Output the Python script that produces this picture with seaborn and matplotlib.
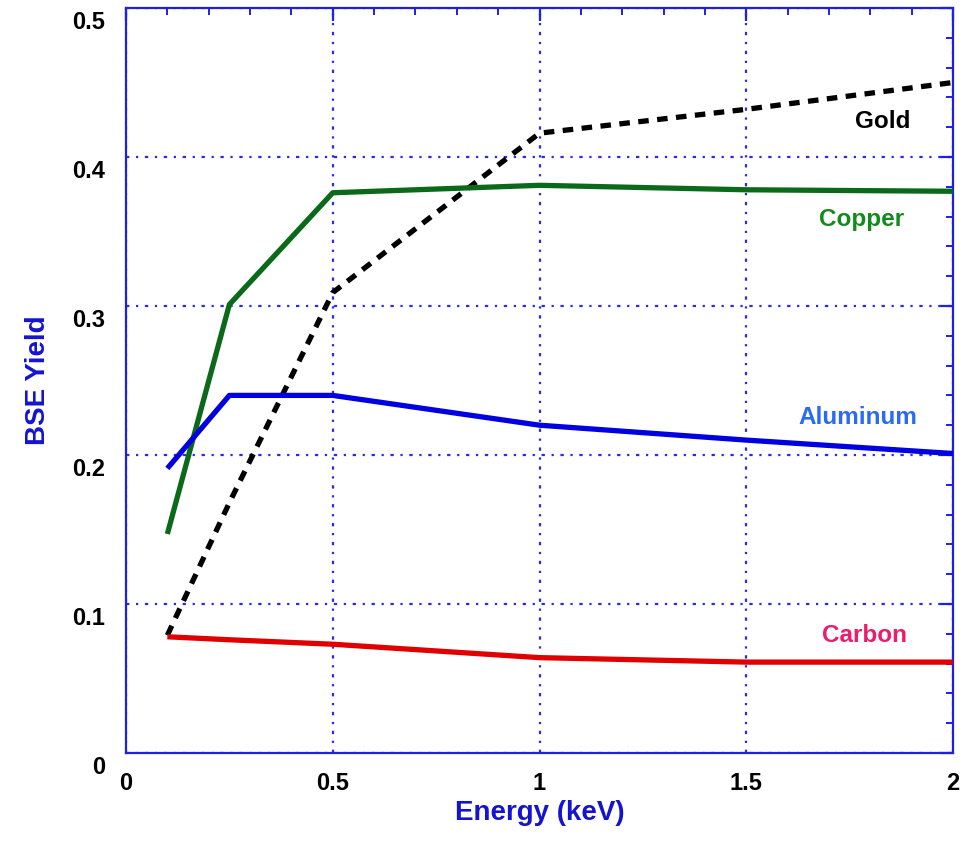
import matplotlib
matplotlib.use("Agg")
import matplotlib.pyplot as plt
import matplotlib.transforms as mtransforms
from matplotlib.ticker import MultipleLocator
import seaborn as sns
import pandas as pd

energy = [0.1, 0.25, 0.5, 1.0, 1.5, 2.0]
gold = [0.079, 0.168, 0.309, 0.416, 0.432, 0.450]
copper = [0.147, 0.301, 0.376, 0.381, 0.378, 0.377]
aluminum = [0.191, 0.240, 0.240, 0.220, 0.210, 0.201]
carbon = [0.078, 0.076, 0.073, 0.064, 0.061, 0.061]
labels = ["Gold", "Copper", "Aluminum", "Carbon"]
xticks = [0, 0.5, 1, 1.5, 2]
xticklabels = ["0", "0.5", "1", "1.5", "2"]
yticks = [0, 0.1, 0.2, 0.3, 0.4, 0.5]
yticklabels = ["0", "0.1", "0.2", "0.3", "0.4", "0.5"]

sns.set_style("white")
plt.rcParams['font.family'] = ['Liberation Sans', 'DejaVu Sans']

fig = plt.figure(figsize=(9.71, 8.42), dpi=100)
ax = fig.add_axes([126/971, 89/842, 827/971, 745/842])

series = [gold, copper, aluminum, carbon]
colors = ["#000000", "#0b6a1a", "#0000e0", "#e00000"]
for vals, col, name in zip(series, colors, labels):
    df = pd.DataFrame({"Energy": energy, "Yield": vals})
    sns.lineplot(data=df, x="Energy", y="Yield", ax=ax, color=col, lw=3.8,
                 zorder=3)
    line = ax.get_lines()[-1]
    line.set_solid_capstyle("butt")
    if name == "Gold":
        line.set_dashes((2.0, 1.6))
        line.set_dash_capstyle("butt")

ax.set_xlim(0, 2)
ax.set_ylim(0, 0.5)
ax.set_xticks(xticks)
ax.set_xticklabels(xticklabels)
ax.set_yticks(yticks)
ax.set_yticklabels(yticklabels)
ax.xaxis.set_minor_locator(MultipleLocator(0.1))
ax.yaxis.set_minor_locator(MultipleLocator(0.02))

spine_col = "#2020e0"
for s in ax.spines.values():
    s.set_color(spine_col)
    s.set_linewidth(1.6)
    s.set_visible(True)

ax.tick_params(axis="both", which="major", direction="in", length=9, width=1.6,
               color=spine_col, top=True, right=True, labelsize=17,
               labelcolor="black")
ax.tick_params(axis="both", which="minor", direction="in", length=5, width=1.4,
               color=spine_col, top=True, right=True)
ax.tick_params(axis="x", which="major", pad=14)
ax.tick_params(axis="y", which="major", pad=15)
for lab in ax.get_xticklabels() + ax.get_yticklabels():
    lab.set_fontweight("bold")
offset = mtransforms.ScaledTranslation(0, -12/100, fig.dpi_scale_trans)
for lab in ax.get_yticklabels():
    lab.set_transform(lab.get_transform() + offset)

ax.grid(True, which="major", color="#2a2ae8", linewidth=1.6,
        linestyle=(0, (1.5, 3, 1, 3)))
ax.set_axisbelow(True)

ax.set_xlabel("Energy (keV)", fontsize=20, fontweight="bold", color="#1414d0",
              labelpad=3)
ax.set_ylabel("BSE Yield", fontsize=20, fontweight="bold", color="#1414d0",
              labelpad=15)

text_pos = [(1.83, 0.4235), (1.78, 0.358), (1.77, 0.225), (1.787, 0.079)]
text_cols = ["#000000", "#138a1e", "#2a6af5", "#ec1c6c"]
for name, (tx, ty), tc in zip(labels, text_pos, text_cols):
    ax.text(tx, ty, name, ha="center", va="center", fontsize=17.5,
            fontweight="bold", color=tc)

fig.savefig("out.png", dpi=100)
